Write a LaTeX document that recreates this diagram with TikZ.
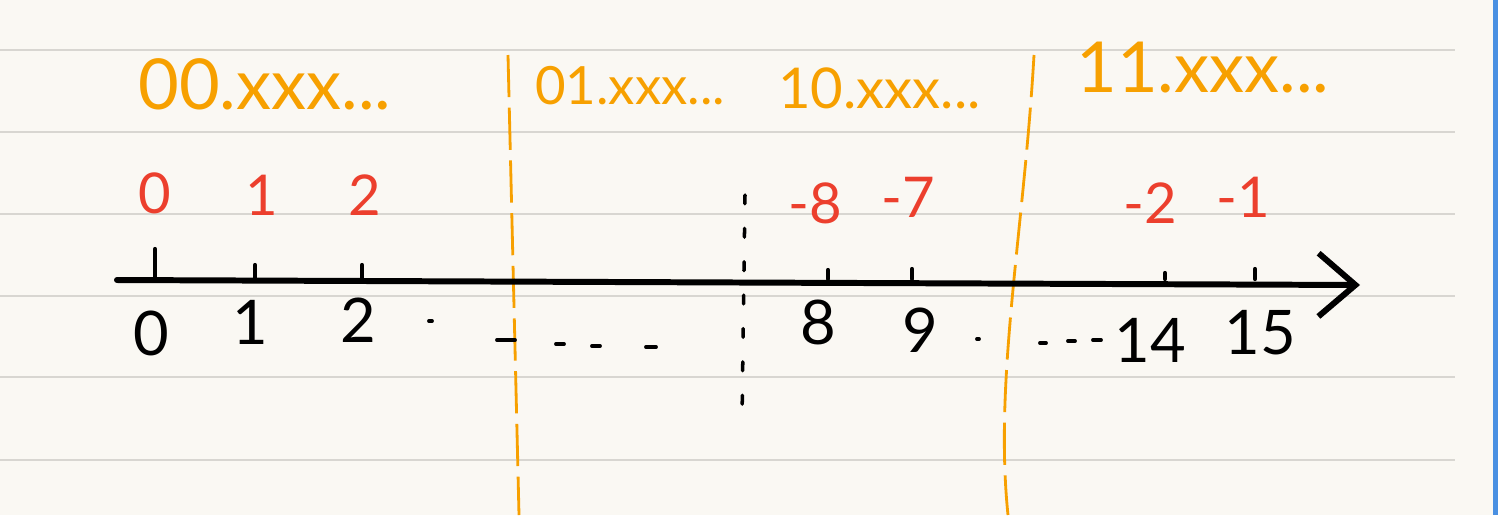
\documentclass[tikz,border=0pt]{standalone}
\usepackage{fontspec}
\setmainfont{Lato}
\usetikzlibrary{positioning,arrows.meta}
\definecolor{paper}{HTML}{FAF8F3}
\definecolor{ruling}{HTML}{D8D6D1}
\definecolor{band}{HTML}{F7A000}
\definecolor{neg}{HTML}{EC3F2D}
\definecolor{margin}{HTML}{4A90E2}

\begin{document}
\begin{tikzpicture}[
  x=0.02cm, y=-0.02cm,
  >={Straight Barb[length=21pt, width=36pt]},
  unsignedval/.style={font=\fontsize{35}{35}\selectfont, text=black, inner sep=0pt},
  signedval/.style={font=\fontsize{32}{32}\selectfont, text=neg, inner sep=0pt},
  bandlabel/.style={font=\fontsize{#1}{#1}\selectfont, text=band, inner sep=0pt, anchor=west},
  bandlabel/.default=36,
  tickmark/.style={line width=2.4pt, line cap=round},
  divider/.style={draw=band, line width=1.6pt, dash pattern=on 24pt off 6pt},
  midline/.style={line width=2pt, line cap=round, dash pattern=on 5pt off 14pt}
]
  % paper
  \fill[paper] (0,0) rectangle (1498,515);
  \useasboundingbox (0,0) rectangle (1498,515);
  \fill[margin] (1493,0) rectangle (1498,515);
  \foreach \y in {50,132,214,296,377,460}
    \draw[ruling, line width=0.7pt] (0,\y) -- (1455,\y);

  % bit-pattern bands
  \node[bandlabel=40] (b00) at (138,84) {00.xxx...};
  \node[bandlabel=30] (b01) at (535,86) {01.xxx...};
  \node[bandlabel=32] (b10) at (778,88) {10.xxx...};
  \node[bandlabel=40] (b11) at (1076,68) {11.xxx...};

  \coordinate (cutA top) at (508,55);
  \coordinate (cutA bot) at (519,515);
  \coordinate (cutB top) at (1034,55);
  \coordinate (cutB bot) at (1008,515);
  \coordinate (half top) at (745,195);
  \coordinate (half bot) at (742,420);
  \draw[divider] (cutA top) -- (cutA bot);
  \draw[divider] (cutB top) .. controls (1024,230) and (994,380) .. (cutB bot);
  \draw[midline] (half top) -- (half bot);

  % axis
  \coordinate (origin) at (117,280);
  \coordinate (tip) at (1360,285);
  \draw[line width=3.4pt, line cap=round, ->] (origin) -- (tip);
  \foreach \x/\h in {155/30, 255/14, 362/14, 828/9, 912/10, 1165/6, 1255/10}
    \draw[tickmark] (\x,279) -- ++(0,-\h);

  % unsigned values
  \node[unsignedval] (u0) at (151,333) {0};
  \node[unsignedval] (u1) at (250,322) {1};
  \node[unsignedval] (u2) at (358,320) {2};
  \node[unsignedval] (u8) at (818,322) {8};
  \node[unsignedval] (u9) at (920,330) {9};
  \node[unsignedval] (u14) at (1150,340) {14};
  \node[unsignedval] (u15) at (1260,333) {15};
  \foreach \a/\b/\y in {429/432/321, 497/515/340, 556/564/344, 592/600/346, 646/656/347, 977/979/339, 1040/1046/343, 1068/1075/341, 1093/1101/340}
    \draw[tickmark, line width=2.2pt] (\a,\y) -- (\b,\y);

  % two's complement values
  \node[signedval] (s0) at (155,193) {0};
  \node[signedval] (s1) at (262,195) {1};
  \node[signedval] (s2) at (365,195) {2};
  \node[signedval] (sm8) at (815,203) {-8};
  \node[signedval] (sm7) at (908,197) {-7};
  \node[signedval] (sm2) at (1150,203) {-2};
  \node[signedval] (sm1) at (1243,197) {-1};
\end{tikzpicture}
\end{document}
